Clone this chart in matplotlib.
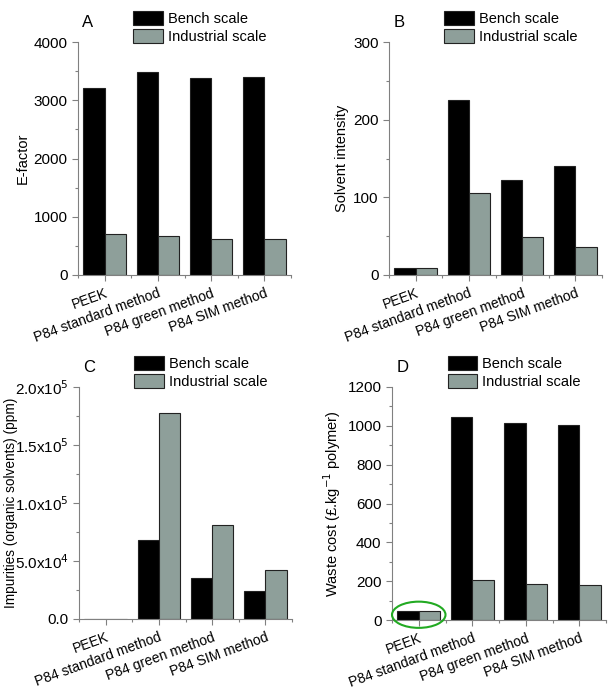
import numpy as np
import matplotlib
matplotlib.use("Agg")
import matplotlib.pyplot as plt
from matplotlib.patches import Ellipse
from matplotlib.ticker import MultipleLocator, FuncFormatter

plt.rcParams['font.family'] = ['Liberation Sans', 'DejaVu Sans']
plt.rcParams['font.size'] = 9.5

categories = ['PEEK', 'P84 standard method', 'P84 green method', 'P84 SIM method']
series_names = ['Bench scale', 'Industrial scale']

efactor_bench = [3205, 3490, 3385, 3405]
efactor_ind = [710, 675, 625, 612]

solvent_bench = [8.6, 225, 122, 140.5]
solvent_ind = [8.6, 105, 49, 35.5]

impurity_bench = [0, 68400, 35600, 23900]
impurity_ind = [0, 177900, 80700, 42500]

waste_bench = [46, 1045, 1015, 1004]
waste_ind = [46, 204, 187, 178]

bench_color = '#000000'
ind_color = '#8e9f9a'
axis_gray = '#808080'


def sci_fmt(v, pos):
    if v == 0:
        return '0.0'
    exp = int(np.floor(np.log10(abs(v))))
    mant = v / 10 ** exp
    return r'%.1fx10$^{%d}$' % (mant, exp)


def draw_panel(ax, bench, ind, letter, ylabel, ymax, major, fmt=None, ylsize=10.5):
    x = np.arange(1, len(categories) + 1)
    w = 0.4
    ax.bar(x - w / 2, bench, w, color=bench_color, edgecolor='#222222', linewidth=0.8,
           label=series_names[0])
    ax.bar(x + w / 2, ind, w, color=ind_color, edgecolor='#222222', linewidth=0.8,
           label=series_names[1])
    ax.set_xlim(0.5, 4.5)
    ax.set_ylim(0, ymax)
    ax.yaxis.set_major_locator(MultipleLocator(major))
    ax.yaxis.set_minor_locator(MultipleLocator(major / 2))
    if fmt is not None:
        ax.yaxis.set_major_formatter(FuncFormatter(fmt))
    ax.set_xticks(x)
    ax.set_xticks(np.arange(0.5, 4.6, 0.5), minor=True)
    ax.set_xticklabels(categories, rotation=20, ha='right', rotation_mode='anchor')
    for s in ['top', 'right']:
        ax.spines[s].set_visible(False)
    for s in ['left', 'bottom']:
        ax.spines[s].set_color(axis_gray)
        ax.spines[s].set_linewidth(0.8)
    ax.tick_params(which='both', color=axis_gray, width=0.8)
    ax.tick_params(which='major', length=4, labelsize=11)
    ax.tick_params(which='minor', length=2.5)
    ax.tick_params(axis='x', labelsize=10, pad=4)
    ax.set_ylabel(ylabel, fontsize=ylsize, labelpad=3)
    ax.text(0.02, 1.05, letter, transform=ax.transAxes, fontsize=12, ha='left', va='bottom')
    ax.legend(loc='lower left', bbox_to_anchor=(0.26, 0.99), frameon=False,
              handlelength=2.0, handleheight=1.1, labelspacing=0.25, handletextpad=0.35,
              borderaxespad=0, borderpad=0, fontsize=10.5)


fig = plt.figure(figsize=(6.08, 6.97), dpi=100)
W, H = 608, 697


def add_ax(x0, x1, ytop, ybot):
    return fig.add_axes([x0 / W, 1 - ybot / H, (x1 - x0) / W, (ybot - ytop) / H])


axA = add_ax(78, 291, 42, 275)
axB = add_ax(389, 602, 42, 275)
axC = add_ax(79, 292, 387, 619)
axD = add_ax(392, 606, 387, 620)

draw_panel(axA, efactor_bench, efactor_ind, 'A', 'E-factor', 4000, 1000)
draw_panel(axB, solvent_bench, solvent_ind, 'B', 'Solvent intensity', 300, 100)
draw_panel(axC, impurity_bench, impurity_ind, 'C', 'Impurities (organic solvents) (ppm)',
           200000, 50000, sci_fmt, ylsize=9.8)
axC.yaxis.set_label_coords(-0.285, 0.5)
draw_panel(axD, waste_bench, waste_ind, 'D', r'Waste cost (£.kg$^{-1}$ polymer)', 1200, 200)

axD.add_patch(Ellipse((1.0, 27), 1.0, 135, fill=False, edgecolor='#22aa22',
                      linewidth=1.5, clip_on=False, zorder=5))

fig.savefig('out.png', dpi=100)
